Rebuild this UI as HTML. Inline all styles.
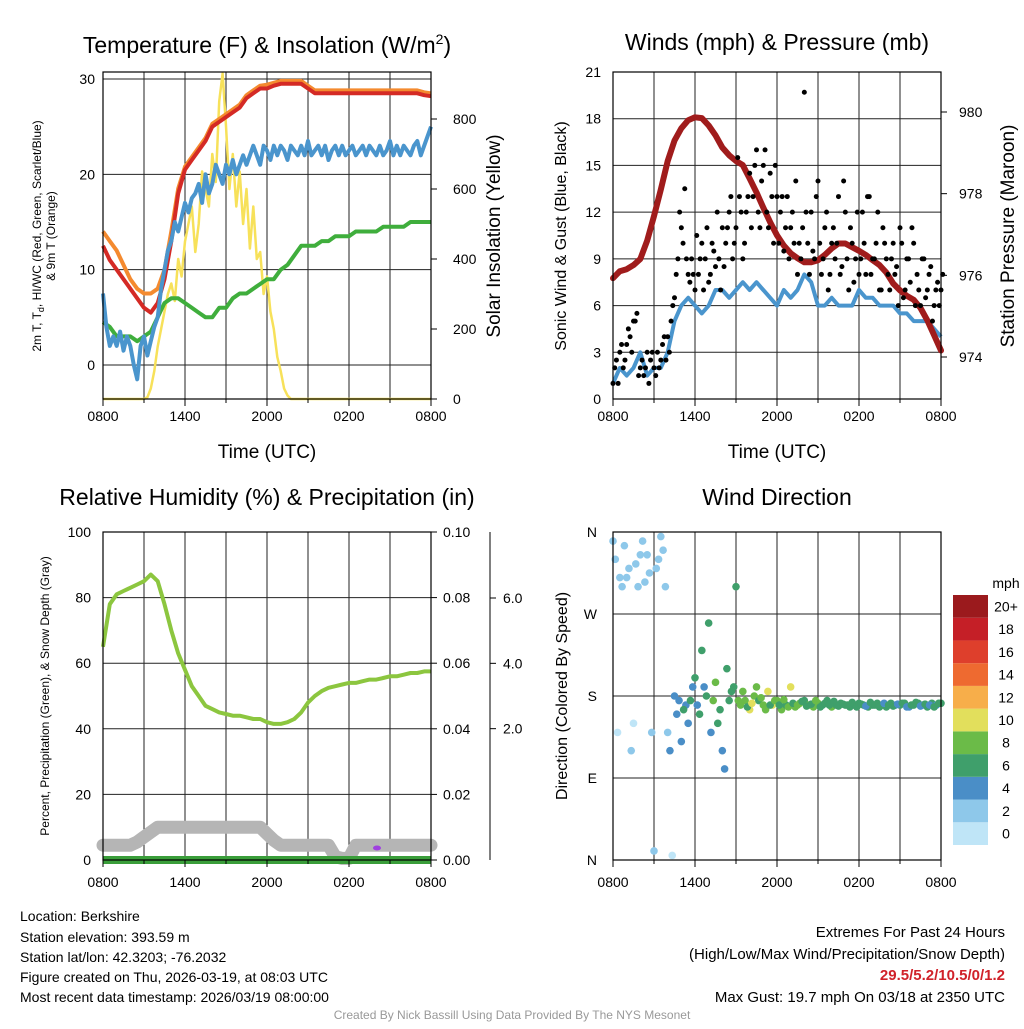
<!DOCTYPE html>
<html><head><meta charset="utf-8"><style>
html,body{margin:0;padding:0;background:#fff}
svg text{font-family:"Liberation Sans",Arial,sans-serif}
</style></head><body>
<svg id="fig" width="1024" height="1024" viewBox="0 0 1024 1024" xmlns="http://www.w3.org/2000/svg">
<rect width="1024" height="1024" fill="#fff"/>
<g id="grid"></g>
<g id="marks"></g>
<g id="axes"></g>
<text x="267" y="53" font-size="23" text-anchor="middle">Temperature (F) &amp; Insolation (W/m<tspan font-size="14" dy="-9">2</tspan><tspan dy="9">)</tspan></text>
<text x="777" y="50" font-size="23" text-anchor="middle">Winds (mph) &amp; Pressure (mb)</text>
<text x="267" y="505" font-size="23" text-anchor="middle">Relative Humidity (%) &amp; Precipitation (in)</text>
<text x="777" y="505" font-size="23" text-anchor="middle">Wind Direction</text>
<text x="267" y="458" font-size="19" text-anchor="middle">Time (UTC)</text>
<text x="777" y="458" font-size="19" text-anchor="middle">Time (UTC)</text>
<text transform="translate(41,236) rotate(-90)" font-size="12" text-anchor="middle">2m T, T<tspan font-size="9" dy="3">d</tspan><tspan dy="-3">, HI/WC (Red, Green, Scarlet/Blue)</tspan></text>
<text transform="translate(55,236) rotate(-90)" font-size="12" text-anchor="middle">&amp; 9m T (Orange)</text>
<text transform="translate(500,236) rotate(-90)" font-size="19" text-anchor="middle">Solar Insolation (Yellow)</text>
<text transform="translate(566,236) rotate(-90)" font-size="16" text-anchor="middle">Sonic Wind &amp; Gust (Blue, Black)</text>
<text transform="translate(1014,236) rotate(-90)" font-size="19" text-anchor="middle">Station Pressure (Maroon)</text>
<text transform="translate(49,696) rotate(-90)" font-size="12" text-anchor="middle">Percent, Precipitation (Green), &amp; Snow Depth (Gray)</text>
<text transform="translate(567,696) rotate(-90)" font-size="16" text-anchor="middle">Direction (Colored By Speed)</text>
<text x="1006" y="588" font-size="14" text-anchor="middle">mph</text>
<g font-size="14">
<text x="20" y="921">Location: Berkshire</text>
<text x="20" y="942">Station elevation: 393.59 m</text>
<text x="20" y="962">Station lat/lon: 42.3203; -76.2032</text>
<text x="20" y="982">Figure created on Thu, 2026-03-19, at 08:03 UTC</text>
<text x="20" y="1002">Most recent data timestamp: 2026/03/19 08:00:00</text>
</g>
<g font-size="15" text-anchor="end">
<text x="1005" y="937">Extremes For Past 24 Hours</text>
<text x="1005" y="959">(High/Low/Max Wind/Precipitation/Snow Depth)</text>
<text x="1005" y="980" fill="#d0222a" font-weight="bold">29.5/5.2/10.5/0/1.2</text>
<text x="1005" y="1002">Max Gust: 19.7 mph On 03/18 at 2350 UTC</text>
</g>
<text x="512" y="1019" font-size="12" fill="#999" text-anchor="middle">Created By Nick Bassill Using Data Provided By The NYS Mesonet</text>
</svg>
<script>
// ---- data (half-hourly from 0800 UTC unless noted) ----
const timeLabels=["0800","1400","2000","0200","0800"];
const tempTicks=[0,10,20,30];
const insTicks=[0,200,400,600,800];
const windTicks=[0,3,6,9,12,15,18,21];
const presTicks=[974,976,978,980];
const rhTicks=[0,20,40,60,80,100];
const precipTicks=["0.00","0.02","0.04","0.06","0.08","0.10"];
const snowTicks=["2.0","4.0","6.0"];
const dirLabels=["N","E","S","W","N"];
const speedLevels=["0","2","4","6","8","10","12","14","16","18","20+"];
const speedColors=["#bfe5f7","#8ec8ea","#4a8ec7","#3f9f6b","#6bbb48","#e2df5c","#f7ae4a","#ee6a30","#de3f2c","#c51f27","#9b1a1d"];
const tempRed=[12.5,11,10,9,8,7,6,5.5,6.5,9,13,18,20.5,21.5,22.5,23.5,25,25.5,26,26.5,27,28,28.5,29,29,29.3,29.5,29.5,29.5,29.5,29,28.5,28.5,28.5,28.5,28.5,28.5,28.5,28.5,28.5,28.5,28.5,28.5,28.5,28.5,28.5,28.5,28.3,28.2];
const tempOrange=[14,13,12,10.5,9,8,7.5,7.5,8,10,14,18.5,20.8,21.8,22.8,23.8,25.3,25.8,26.3,26.8,27.3,28.3,28.8,29.3,29.4,29.6,29.8,29.8,29.8,29.8,29.3,28.8,28.8,28.8,28.8,28.8,28.8,28.8,28.8,28.8,28.8,28.8,28.8,28.8,28.8,28.8,28.8,28.6,28.5];
// HI/WC every 15 min
const tempBlue=[7.5,4,2,3,2,3.5,1.5,3,2,0,-1.5,2,3,1,2.5,4,5,8,10,12,13,15,14,15.5,17,16,17.5,18,19,17,20,18,19,21,20,19,21,20,21.5,20,21,22,21,22,23,22,21,23,22.5,21.5,23,22,23,22.5,21.5,23,22.5,22,23,22,23.5,22,22.5,23,22,23,21.5,22.5,23,22,23,22,22.5,23,22,22.5,23,22,23,22.5,22,23,22,22.5,23.5,22,23,22,23,22.5,22,23,23.5,22,23,24,25];
const tempGreen=[4.5,4,3,3,3,2.5,3,3.5,5,6.5,7,7,6.5,6,5.5,5,5,6,6,7,7.5,7.5,8,8.5,9,9,10,10.5,11.5,12.5,12.5,12.5,13,13,13.5,13.5,13.5,14,14,14,14,14.5,14.5,14.5,14.5,15,15,15,15];
// insolation every 15 min
const insolation=[0,0,0,0,0,0,0,0,0,0,0,0,0,5,30,80,150,200,250,300,330,280,400,350,450,500,550,420,500,650,600,550,700,620,850,930,780,600,700,550,650,500,600,430,550,400,420,300,350,250,200,120,80,30,10,0,0,0,0,0,0,0,0,0,0,0,0,0,0,0,0,0,0,0,0,0,0,0,0,0,0,0,0,0,0,0,0,0,0,0,0,0,0,0,0,0,0];
const windSpeed=[1,2,1.5,2,3,1.5,2,2,3,5,6,6.5,6,5.5,6,7,7,6.5,7,7.5,7,7.5,7,6.5,6,7,6.5,7,8,7.5,6,6,6.5,6,6,6,7,6.5,6.5,6,6,6,5.5,5.5,5,5,5,4.5,4];
// gusts every 15 min, and a second set offset by 7.5 min
const windGust=[1,2.5,3,2,3.5,4,5,5.5,2, 1.5,3,2.5,2,3,2.5,4,4, 5,6.5,9,11,13.5,8,9,7, 8,10,9,7.5,10,8.5,9,11, 10,12,9,11,13,9,12,14.5, 13,16,11,15,12,14.5,10,13, 12,9.5,13,11,10,8,9,19.7, 10,12,9,14,8,11,7,10, 9,13,8.5,12,7,10,9,8, 12,8,13,9,10,7,11,9, 7,10,8.5,11,6.5,9,7.5,10, 8,6,9,7,8.5,6,7.5,7];
const windGust2=[2,1,3.5,2.5,4.5,3,5,1.5,2.5, 2,1,3,1.5,2,3.5,2.5,3, 6,8,12,10,9,7.5,8,10.5, 9,7,11,8,9.5,12,7,8.5, 11,13,10,15.5,12,10,13,11, 15,12,14,16,11,13,15,10, 13,11,9,12,14,10,11,12, 8,9.5,13,10,9,12,8,11, 10,8,14,9,11,7.5,12,9, 10,13,8,9,12,7,10,8, 9,8,6,10,7,9,11,6, 7,9,6.5,8,5,7,6,8];
const pressure=[975.93,976.1,976.15,976.25,976.4,976.85,977.45,978.1,978.8,979.3,979.6,979.8,979.87,979.85,979.67,979.43,979.13,978.94,978.8,978.7,978.37,978.03,977.66,977.3,976.98,976.73,976.54,976.42,976.32,976.32,976.37,976.5,976.66,976.78,976.78,976.69,976.6,976.5,976.37,976.25,976.07,975.8,975.63,975.5,975.4,975.2,974.9,974.53,974.16];
const relHum=[65,78,81,82,83,84,85,87,85,78,70,63,58,53,50,47,46,45,44.5,44,44,43.5,43,43,42,41.5,41.5,42,43,45,48,50,51.5,52.5,53,53.5,54,54,54.5,55,55,55.5,56,56,56.5,57,57,57.5,57.5];
const snowDepth=[4.5,4.5,4.5,4.5,4.5,5.5,7,8.5,10,10,10,10,10,10,10,10,10,10,10,10,10,10,10,10,8,6,4.5,4.5,4.5,4.5,4.5,4.5,4.5,4.5,1,0.5,0.5,4.5,4.5,4.5,4.5,4.5,4.5,4.5,4.5,4.5,4.5,4.5,4.5];
const precip=[0,0,0,0,0,0,0,0,0,0,0,0,0,0,0,0,0,0,0,0,0,0,0,0,0,0,0,0,0,0,0,0,0,0,0,0,0,0,0,0,0,0,0,0,0,0,0,0,0];
// wind direction every 20 min, plus a second set offset by 10 min
const windDir=[350,140,300,310,120,325,335,305,315, 10,330,340,140,5,160,130,170,175, 200,160,190,260,175,150,120,210,185, 300,170,175,165,180,175,170,185,170, 175,165,170,190,168,172,175,170,168, 172,170,175,168,170,172,170,168,170, 172,170,168,170,172,170,168,172,170, 170,172,168,170,172,170,168,172,170,172];
const dirSpeed=[1,0.5,2,1.5,1,2,1,2,1, 1,2,1.5,2,0.5,3,4,3,5, 5,6,4,5,7,6,3,5,6, 5,7,8,9,8,6,7,10,9, 8,7,6,9,8,7,6,7,8, 7,6,6,7,6,5,6,6,5, 5,5,6,5,5,6,5,5,4, 5,5,4,6,5,4,5,5,4,5];
const windDir2=[330,310,345,320,150,300,350,335,140, 320,355,300,120,180,175,165,150,190, 170,230,180,140,195,165,100,175,190, 175,185,168,172,190,178,165,170,175, 170,176,168,172,170,174,169,171,175, 168,172,170,174,169,171,170,173,168, 171,169,173,170,168,172,170,169,171, 172,168,170,173,169,171,170,168,172];
const dirSpeed2=[1,2,1,2,0.5,1,2,1.5,1, 2,1,1.5,3,4,4,5,3,4, 4,5,6,4,7,5,3,6,5, 8,7,6,9,7,8,7,6,8, 6,7,8,6,7,6,5,6,7, 6,5,6,5,6,5,5,6,5, 5,4,5,6,5,4,5,5,4, 5,4,5,5,4,5,4,5,5];

const NS='http://www.w3.org/2000/svg';
const G=document.getElementById('grid'),M=document.getElementById('marks'),A=document.getElementById('axes');
function mk(parent,tag,attrs){const e=document.createElementNS(NS,tag);for(const k in attrs)e.setAttribute(k,attrs[k]);parent.appendChild(e);return e;}
function txt(parent,x,y,s,size,anchor){const t=mk(parent,'text',{x:x,y:y,'font-size':size,'text-anchor':anchor||'middle'});t.textContent=s;return t;}
function scale(d0,d1,r0,r1){return v=>r0+(v-d0)*(r1-r0)/(d1-d0);}
function pathOf(vals,sx,sy,step){return vals.map((v,i)=>(i?'L':'M')+sx(i*step).toFixed(1)+','+sy(v).toFixed(1)).join('');}

const P=[{x0:103,x1:431,y0:72,y1:399},{x0:613,x1:941,y0:72,y1:399},{x0:103,x1:431,y0:532,y1:860},{x0:613,x1:941,y0:532,y1:860}];
P.forEach((p,k)=>{
  const sx=scale(0,24,p.x0,p.x1);
  for(let h=3;h<24;h+=3){const l=mk(G,'line',{x1:sx(h),x2:sx(h),y1:p.y0,y2:p.y1,stroke:'#222','stroke-width':1});
    
    }
  const fr=mk(A,'rect',{x:p.x0,y:p.y0,width:p.x1-p.x0,height:p.y1-p.y0,fill:'none',stroke:'#000','stroke-width':1.2});
  
  
  timeLabels.forEach((s,i)=>{const t=txt(A,sx(i*6),p.y1+(k<2?22:27),s,14);
    
    });
  for(let h=0;h<=24;h+=3){mk(A,'line',{x1:sx(h),x2:sx(h),y1:p.y1,y2:p.y1+(h%6?4:7),stroke:'#000'});}
});

// Panel 1
(function(){const p=P[0];const sx=scale(0,24,p.x0,p.x1);const sy=scale(30,0,79,365);const si=scale(0,800,399,119);
  tempTicks.forEach(v=>{mk(G,'line',{x1:p.x0,x2:p.x1,y1:sy(v),y2:sy(v),stroke:'#222'});
    const t=txt(A,p.x0-8,sy(v)+5,String(v),14,'end');
    
    });
  insTicks.forEach(v=>{mk(A,'line',{x1:p.x1,x2:p.x1+6,y1:si(v),y2:si(v),stroke:'#000'});
    const t=txt(A,p.x1+22,si(v)+5,String(v),14,'start');
    
    });
  const ins=mk(M,'path',{d:pathOf(insolation,sx,si,0.25),fill:'none',stroke:'#f7e15a','stroke-width':2.5,'stroke-linejoin':'round'});
  
  
  [[tempGreen,'#3fae3c','dewpoint-line',0.5],[tempOrange,'#f48a2f','temp-9m-line',0.5],[tempRed,'#d42a25','temp-2m-line',0.5],[tempBlue,'#4a95cd','heat-index-windchill-line',0.25]].forEach(s=>{
    const e=mk(M,'path',{d:pathOf(s[0],sx,sy,s[3]),fill:'none',stroke:s[1],'stroke-width':4,'stroke-linejoin':'round'});
    
    });
})();

// Panel 2
(function(){const p=P[1];const sx=scale(0,24,p.x0,p.x1);const sy=scale(0,21,399,72);const sp=scale(974,980,357,112);
  windTicks.forEach(v=>{if(v>0&&v<21)mk(G,'line',{x1:p.x0,x2:p.x1,y1:sy(v),y2:sy(v),stroke:'#222'});
    const t=txt(A,p.x0-12,sy(v)+5,String(v),14,'end');
    
    });
  presTicks.forEach(v=>{mk(A,'line',{x1:p.x1,x2:p.x1+6,y1:sp(v),y2:sp(v),stroke:'#000'});
    const t=txt(A,p.x1+18,sp(v)+5,String(v),14,'start');
    
    });
  const w=mk(M,'path',{d:pathOf(windSpeed,sx,sy,0.5),fill:'none',stroke:'#4a95cd','stroke-width':4,'stroke-linejoin':'round'});
  
  
  const pr=mk(M,'path',{d:pathOf(pressure,sx,sp,0.5),fill:'none',stroke:'#a01c1c','stroke-width':6,'stroke-linejoin':'round','stroke-linecap':'round'});
  
  
  windGust.forEach((v,i)=>{const c=mk(M,'circle',{cx:sx(i*0.25),cy:sy(v),r:2.5,fill:'#000'});
    
    });
  windGust2.forEach((v,i)=>{const c=mk(M,'circle',{cx:sx(i*0.25+0.125),cy:sy(v),r:2.5,fill:'#000'});
    
    });
})();

// Panel 3
(function(){const p=P[2];const sx=scale(0,24,p.x0,p.x1);const sy=scale(0,100,860,532);
  rhTicks.forEach((v,i)=>{if(v>0&&v<100)mk(G,'line',{x1:p.x0,x2:p.x1,y1:sy(v),y2:sy(v),stroke:'#222'});
    const t=txt(A,p.x0-12,sy(v)+5,String(v),14,'end');
    
    
    mk(A,'line',{x1:p.x1,x2:p.x1+6,y1:sy(v),y2:sy(v),stroke:'#000'});
    const t2=txt(A,p.x1+12,sy(v)+5,precipTicks[i],14,'start');
    
    });
  mk(A,'line',{x1:490,x2:490,y1:532,y2:860,stroke:'#000'});
  const ss=scale(0,6,794,598);
  snowTicks.forEach(s=>{mk(A,'line',{x1:490,x2:496,y1:ss(+s),y2:ss(+s),stroke:'#000'});
    const t=txt(A,503,ss(+s)+5,s,14,'start');
    
    });
  const sn=mk(M,'path',{d:pathOf(snowDepth,sx,sy,0.5),fill:'none',stroke:'#b5b5b5','stroke-width':13,'stroke-linejoin':'round','stroke-linecap':'round'});
  
  
  const pc=mk(M,'path',{d:pathOf(precip,sx,sy,0.5),fill:'none',stroke:'#3a9e3a','stroke-width':8});
  
  
  const rh=mk(M,'path',{d:pathOf(relHum,sx,sy,0.5),fill:'none',stroke:'#8cc63f','stroke-width':4,'stroke-linejoin':'round'});
  
  
  const pd=mk(M,'ellipse',{cx:377,cy:848,rx:4,ry:2.5,fill:'#a040e0'});
  
  
})();

// Panel 4
(function(){const p=P[3];const sx=scale(0,24,p.x0,p.x1);const sy=scale(0,360,860,532);
  dirLabels.forEach((s,i)=>{if(i>0&&i<4)mk(G,'line',{x1:p.x0,x2:p.x1,y1:sy(i*90),y2:sy(i*90),stroke:'#222'});
    const t=txt(A,p.x0-16,sy(i*90)+5,s,14,'end');
    
    });
  windDir.forEach((d,i)=>{const idx=Math.min(10,Math.round(dirSpeed[i]/2));
    const c=mk(M,'circle',{cx:sx(i/3),cy:sy(d),r:3.8,fill:speedColors[idx]});
    
    });
  windDir2.forEach((d,i)=>{const idx=Math.min(10,Math.round(dirSpeed2[i]/2));
    const c=mk(M,'circle',{cx:sx(i/3+1/6),cy:sy(d),r:3.8,fill:speedColors[idx]});
    
    });
  const bh=250/11;
  speedLevels.forEach((s,i)=>{const y=845-(i+1)*bh;
    const r=mk(A,'rect',{x:953,y:y,width:35,height:bh,fill:speedColors[i]});
    
    
    const t=txt(A,1006,y+bh/2+5,s,14,'middle');
    
    });
})();
</script>
</body></html>
